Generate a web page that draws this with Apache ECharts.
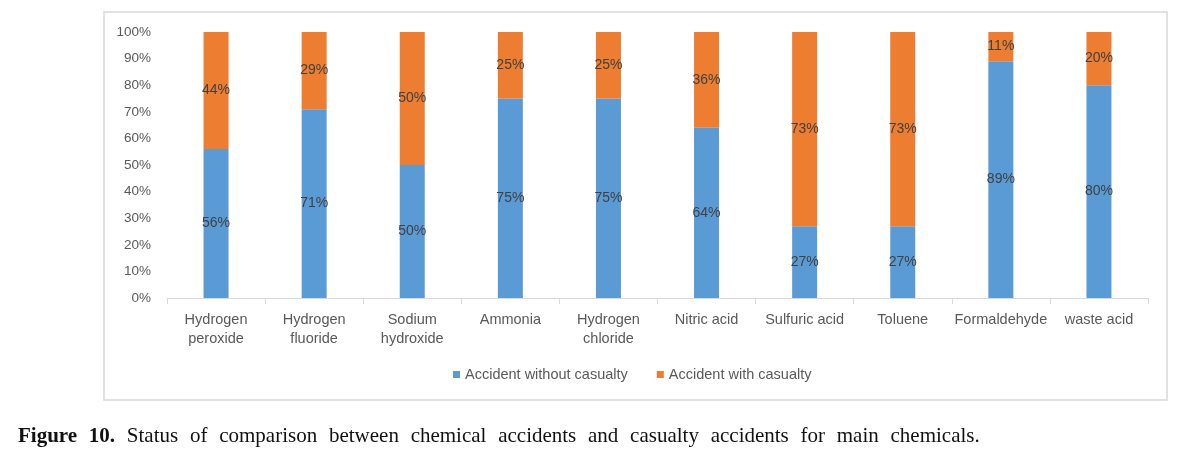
<!DOCTYPE html>
<html>
<head>
<meta charset="utf-8">
<script src="https://cdn.jsdelivr.net/npm/echarts@6/dist/echarts.min.js"></script>
<style>
  html, body { margin: 0; padding: 0; background: #fff; }
  #wrap { position: relative; width: 1182px; height: 460px; }
  #chart { position: absolute; left: 0; top: 0; width: 1182px; height: 460px; }
  #caption {
    position: absolute; left: 18px; top: 423px;
    font-family: "Liberation Serif", "DejaVu Serif", serif;
    font-size: 21px; color: #111; word-spacing: 6.5px; white-space: nowrap;
  }
</style>
</head>
<body>
<div id="wrap">
  <div id="chart"></div>
  <div id="caption"><b>Figure 10.</b> Status of comparison between chemical accidents and casualty accidents for main chemicals.</div>
</div>
<script>
// 分类与数据
const categories = ['Hydrogen\nperoxide', 'Hydrogen\nfluoride', 'Sodium\nhydroxide', 'Ammonia',
  'Hydrogen\nchloride', 'Nitric acid', 'Sulfuric acid', 'Toluene', 'Formaldehyde', 'waste acid']
const withoutCasualty = [56, 71, 50, 75, 75, 64, 27, 27, 89, 80]
const withCasualty = [44, 29, 50, 25, 25, 36, 73, 73, 11, 20]
const yTicks = [0, 10, 20, 30, 40, 50, 60, 70, 80, 90, 100]

let myChart = echarts.init(document.getElementById('chart'))
const font = '"Liberation Sans", Arial, sans-serif'
const seriesLabel = {
  show: true,
  position: 'inside',
  formatter: '{c}%',
  color: '#404040',
  fontSize: 14,
  fontFamily: font
}

let option = {
  animation: false,
  textStyle: { fontFamily: font },
  graphic: [{
    type: 'rect',
    shape: { x: 104, y: 12, width: 1063, height: 388 },
    style: { fill: 'none', stroke: '#d9d9d9', lineWidth: 1.5 },
    silent: true
  }],
  legend: {
    top: 362,
    left: 448,
    itemWidth: 7,
    itemHeight: 7,
    itemGap: 29,
    icon: 'rect',
    textStyle: { color: '#595959', fontSize: 14.5, fontFamily: font },
    data: ['Accident without casualty', 'Accident with casualty']
  },
  grid: { left: 167, right: 34, top: 32, bottom: 162 },
  xAxis: {
    type: 'category',
    data: categories,
    axisLine: { lineStyle: { color: '#d9d9d9', width: 1 } },
    axisTick: { show: true, length: 6, lineStyle: { color: '#d9d9d9' } },
    axisLabel: { color: '#595959', fontSize: 14.5, lineHeight: 19, margin: 12, interval: 0 }
  },
  yAxis: {
    type: 'value',
    min: yTicks[0],
    max: yTicks[yTicks.length - 1],
    interval: 10,
    axisLine: { show: false },
    axisTick: { show: false },
    splitLine: { show: false },
    axisLabel: { formatter: '{value}%', color: '#595959', fontSize: 13.5, margin: 16 }
  },
  series: [
    {
      name: 'Accident without casualty',
      type: 'bar',
      stack: 'total',
      barWidth: 25,
      itemStyle: { color: '#5b9bd5' },
      label: seriesLabel,
      data: withoutCasualty
    },
    {
      name: 'Accident with casualty',
      type: 'bar',
      stack: 'total',
      barWidth: 25,
      itemStyle: { color: '#ed7d31' },
      label: seriesLabel,
      data: withCasualty
    }
  ]
}

option && myChart.setOption(option)
</script>
</body>
</html>
